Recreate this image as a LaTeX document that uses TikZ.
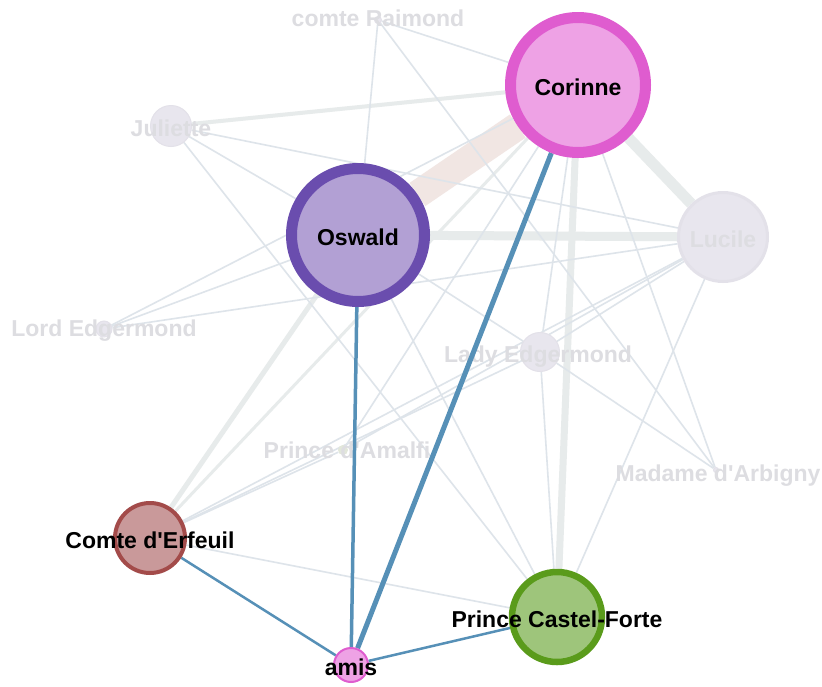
\documentclass[tikz,border=0pt]{standalone}
\usepackage{fontspec}
\setmainfont{Liberation Sans}[Ligatures=TeXOff]
\pgfdeclarelayer{gedge}\pgfdeclarelayer{gnodes}\pgfdeclarelayer{glab}\pgfdeclarelayer{hedge}\pgfdeclarelayer{top}
\pgfsetlayers{gedge,gnodes,glab,hedge,main,top}
\definecolor{corfill}{HTML}{EEA2E5}
\definecolor{corborder}{HTML}{DF5CCF}
\definecolor{oswfill}{HTML}{B2A0D4}
\definecolor{oswborder}{HTML}{6A4DAE}
\definecolor{erffill}{HTML}{C9999A}
\definecolor{erfborder}{HTML}{A34B4A}
\definecolor{casfill}{HTML}{9EC57B}
\definecolor{casborder}{HTML}{5A9B1B}
\definecolor{hiedge}{HTML}{5690B7}
\definecolor{gfill}{HTML}{E8E6EE}
\definecolor{gborder}{HTML}{E3E1E9}
\definecolor{glabcol}{HTML}{DDDDE1}
\definecolor{gedgecol}{HTML}{DEE4EA}
\definecolor{beige}{HTML}{F1E6E3}
\definecolor{thickg}{HTML}{E7EBEB}
\definecolor{amalfi}{HTML}{E2E7DA}
\tikzset{
  x=1pt, y=-1pt,
  vtx/.style={circle, inner sep=0pt, minimum size=#1},
  gvtx/.style={vtx=#1, fill=gfill, draw=gborder, line width=1pt},
  lab/.style={font=\fontsize{23}{27}\selectfont\bfseries, text=black, inner sep=0pt},
  glab/.style={lab, text=glabcol},
  ge/.style={draw=gedgecol, line width=1.6pt},
  te/.style={draw=thickg, line width=#1},
  he/.style={draw=hiedge, line width=#1},
}
\begin{document}
\begin{tikzpicture}
\useasboundingbox (0,0) rectangle (822,686);
\begin{pgfonlayer}{gedge}
\fill[white] (0,0) rectangle (822,686);
\end{pgfonlayer}
% gray nodes
\begin{pgfonlayer}{gnodes}
\node[gvtx=89pt, line width=3pt] (lucile) at (723,237) {};
\node[gvtx=41pt] (juliette) at (171,126) {};
\node[gvtx=39pt] (lady) at (540,352) {};
\node[gvtx=16pt] (lord) at (104,329) {};
\node[gvtx=7pt] (raimond) at (378,20) {};
\node[vtx=10pt, fill=amalfi] (amalfi) at (343,450) {};
\node[gvtx=5pt] (arbigny) at (716,470) {};
\end{pgfonlayer}
% highlighted nodes
\node[vtx=135pt, fill=corfill, draw=corborder, line width=11pt] (corinne) at (578,85) {};
\node[vtx=133pt, fill=oswfill, draw=oswborder, line width=11pt] (oswald) at (358,235) {};
\node[vtx=70pt, fill=erffill, draw=erfborder, line width=4pt] (erfeuil) at (150,538) {};
\node[vtx=90pt, fill=casfill, draw=casborder, line width=6.5pt] (castel) at (557,617) {};
\node[vtx=34pt, fill=corfill, draw=corborder, line width=2pt] (amis) at (351,665) {};
% gray edges
\begin{pgfonlayer}{gedge}
\draw[draw=beige, line width=28pt] (corinne) -- (oswald);
\draw[te=11pt] (corinne) -- (lucile);
\draw[te=9pt] (oswald) -- (lucile);
\draw[te=7pt] (corinne) -- (castel);
\draw[te=5pt] (oswald) -- (erfeuil);
\draw[te=4pt] (corinne) -- (juliette);
\draw[te=3pt] (corinne) -- (erfeuil);
\draw[ge] (raimond) -- (corinne);
\draw[ge] (raimond) -- (oswald);
\draw[ge] (raimond) -- (arbigny);
\draw[ge] (juliette) -- (lucile);
\draw[ge] (juliette) -- (oswald);
\draw[ge] (juliette) -- (castel);
\draw[ge] (lord) -- (corinne);
\draw[ge] (lord) -- (oswald);
\draw[ge] (lord) -- (lucile);
\draw[ge] (lady) -- (corinne);
\draw[ge] (lady) -- (oswald);
\draw[ge] (lady) -- (lucile);
\draw[ge] (lady) -- (castel);
\draw[ge] (lady) -- (erfeuil);
\draw[ge] (lady) -- (arbigny);
\draw[ge] (lucile) -- (castel);
\draw[ge] (lucile) -- (amalfi);
\draw[ge] (lucile) -- (erfeuil);
\draw[ge] (corinne) -- (arbigny);
\draw[ge] (oswald) -- (castel);
\draw[ge] (erfeuil) -- (castel);
\draw[ge] (amalfi) -- (erfeuil);
\draw[ge] (amalfi) -- (corinne);
\end{pgfonlayer}
% gray labels
\begin{pgfonlayer}{glab}
\node[glab] (lucile-l) at ([yshift=-2pt]lucile) {Lucile};
\node[glab] (juliette-l) at ([yshift=-2pt]juliette) {Juliette};
\node[glab] (lady-l) at (538,357) {Lady Edgermond};
\node[glab] (lord-l) at (104,331) {Lord Edgermond};
\node[glab] (raimond-l) at (378,18) {comte Raimond};
\node[glab] (amalfi-l) at (347,450) {Prince d'Amalfi};
\node[glab] (arbigny-l) at (718,476) {Madame d'Arbigny};
\end{pgfonlayer}
% highlighted edges
\begin{pgfonlayer}{hedge}
\draw[he=3.5pt] (oswald) -- (amis);
\draw[he=5pt] (corinne) -- (amis);
\draw[he=2.5pt] (erfeuil) -- (amis);
\draw[he=2.5pt] (castel) -- (amis);
\end{pgfonlayer}
% labels
\begin{pgfonlayer}{top}
\node[lab] (corinne-l) at ([yshift=-2pt]corinne) {Corinne};
\node[lab] (oswald-l) at ([yshift=-2pt]oswald) {Oswald};
\node[lab] (erfeuil-l) at ([yshift=-2pt]erfeuil) {Comte d'Erfeuil};
\node[lab] (castel-l) at ([yshift=-2pt]castel) {Prince Castel-Forte};
\node[lab] (amis-l) at ([yshift=-2pt]amis) {amis};
\end{pgfonlayer}
\end{tikzpicture}
\end{document}
